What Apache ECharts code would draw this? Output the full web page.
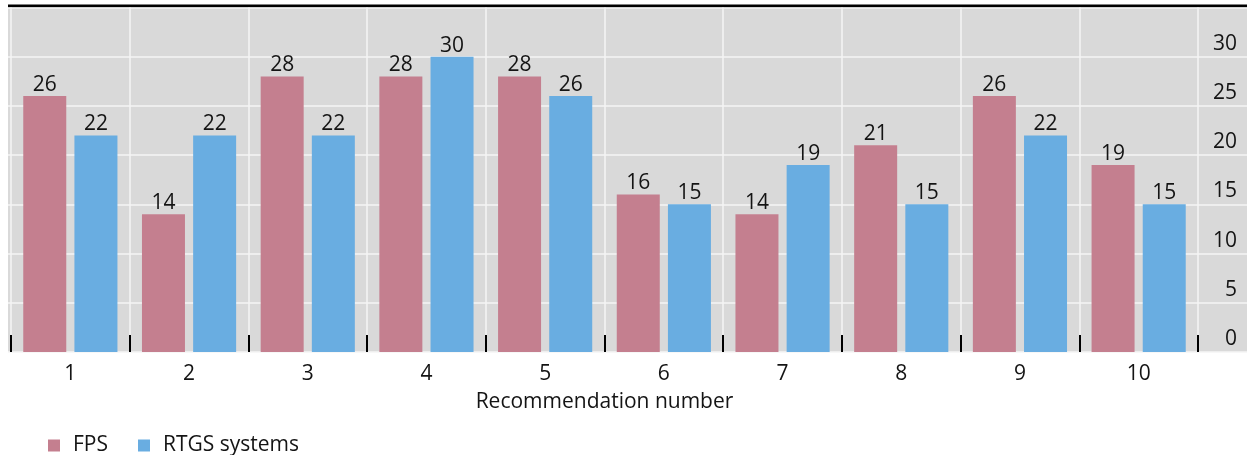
<!DOCTYPE html>
<html>
<head>
<meta charset="utf-8">
<script src="https://cdn.jsdelivr.net/npm/echarts@6/dist/echarts.min.js"></script>
<style>
  html, body { margin: 0; padding: 0; background: #fff; overflow: hidden; }
  #chart { width: 1247px; height: 455px; }
</style>
</head>
<body>
<div id="chart"></div>
<script>
// Recommendations and the number of respondents meeting each
const categories = ['1', '2', '3', '4', '5', '6', '7', '8', '9', '10'];
const fpsValues = [26, 14, 28, 28, 28, 16, 14, 21, 26, 19];
const rtgsValues = [22, 22, 22, 30, 26, 15, 19, 15, 22, 15];
const seriesNames = ['FPS', 'RTGS systems'];
const axisTitle = 'Recommendation number';

const FONT = '"Open Sans", "Noto Sans", sans-serif';
const TEXT = '#141414';
const FS = 21;
const RULE_TOP = 4.5;
const PANEL_TOP = 7.5;
const PANEL_BOTTOM = 103;

const chart = echarts.init(document.getElementById('chart'));

const labelStyle = {
  show: true,
  position: 'top',
  distance: 1,
  lineHeight: 20,
  fontFamily: FONT,
  fontSize: FS,
  color: TEXT
};

const hiddenAxis = (gridIndex) => ({ gridIndex, type: 'value', min: 0, max: 1, show: false });

chart.setOption({
  animation: false,
  textStyle: { fontFamily: FONT },
  grid: [
    // black backing whose exposed top strip forms the heavy rule
    { left: 8, right: 0, top: RULE_TOP, bottom: PANEL_BOTTOM, show: true,
      backgroundColor: '#000', borderWidth: 0 },
    // full-width grey panel carrying the horizontal gridlines
    { left: 8, right: 0, top: PANEL_TOP, bottom: PANEL_BOTTOM, show: true,
      backgroundColor: '#d9d9d9', borderWidth: 0 },
    // plotting area for the bars
    { left: 11, right: 49, top: PANEL_TOP, bottom: PANEL_BOTTOM, show: false }
  ],
  xAxis: [
    hiddenAxis(0),
    hiddenAxis(1),
    { gridIndex: 2, type: 'category', data: categories, boundaryGap: true,
      axisLine: { show: false, onZero: false },
      axisTick: { show: true, inside: true, length: 17, lineStyle: { color: '#000', width: 2 } },
      splitLine: { show: true, lineStyle: { color: '#f4f4f4', width: 1.5 } },
      axisLabel: { fontFamily: FONT, fontSize: FS, color: TEXT, margin: 12 },
      name: axisTitle, nameLocation: 'middle', nameGap: 40,
      nameTextStyle: { fontFamily: FONT, fontSize: FS, color: TEXT } }
  ],
  yAxis: [
    hiddenAxis(0),
    { gridIndex: 1, type: 'value', min: 0, max: 35, interval: 5,
      axisLine: { show: false }, axisTick: { show: false }, axisLabel: { show: false },
      splitLine: { show: true, lineStyle: { color: '#f4f4f4', width: 1.5 } } },
    { gridIndex: 2, type: 'value', position: 'right', min: 0, max: 35, interval: 5,
      axisLine: { show: false }, axisTick: { show: false }, splitLine: { show: false },
      axisLabel: {
        fontFamily: FONT, fontSize: FS, color: TEXT,
        align: 'right', verticalAlign: 'bottom', lineHeight: 26, margin: 39,
        formatter: v => (v > 30 ? '' : String(v))
      } }
  ],
  legend: {
    left: 43, top: 430,
    icon: 'rect', itemWidth: 12, itemHeight: 12, itemGap: 30,
    textStyle: { fontFamily: FONT, fontSize: FS, color: TEXT, padding: [0, 0, 0, 8] },
    data: seriesNames
  },
  series: [
    { name: seriesNames[0], type: 'bar', xAxisIndex: 2, yAxisIndex: 2,
      data: fpsValues, barWidth: 43, barGap: '19%',
      itemStyle: { color: '#c47f8f' }, label: labelStyle },
    { name: seriesNames[1], type: 'bar', xAxisIndex: 2, yAxisIndex: 2,
      data: rtgsValues, barWidth: 43, barGap: '19%',
      itemStyle: { color: '#69ade1' }, label: labelStyle }
  ]
});
</script>
</body>
</html>
